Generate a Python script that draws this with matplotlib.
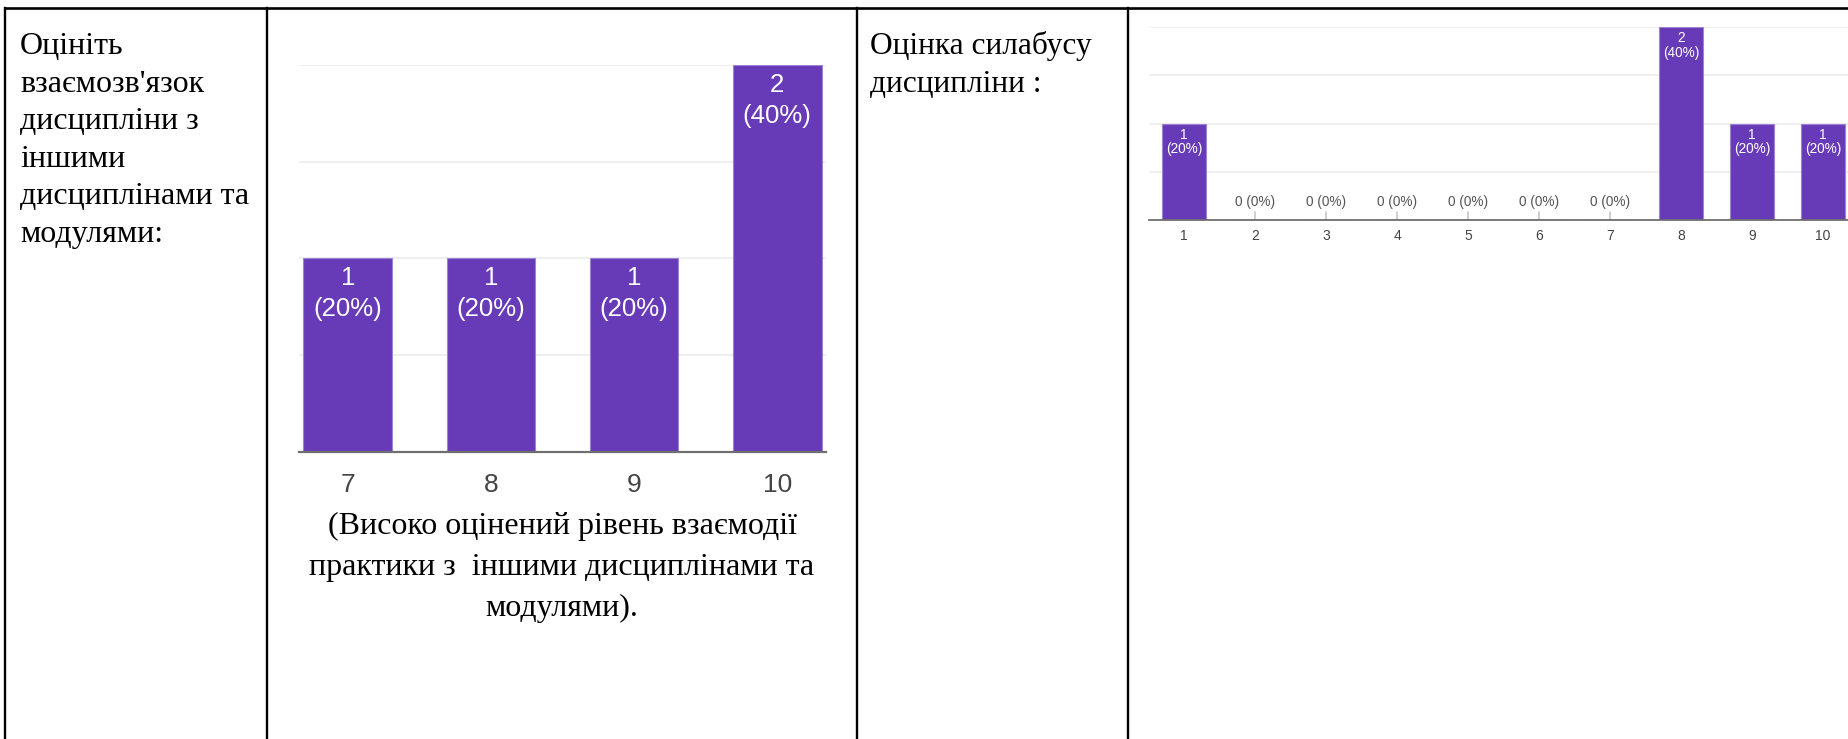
import matplotlib.pyplot as plt
from matplotlib.lines import Line2D

# survey answers, 5 respondents
left_scores = ['7', '8', '9', '10']
left_counts = [1, 1, 1, 2]
right_scores = ['1', '2', '3', '4', '5', '6', '7', '8', '9', '10']
right_counts = [1, 0, 0, 0, 0, 0, 0, 2, 1, 1]
total = 5

left_question = ['Оцініть', "взаємозв'язок", 'дисципліни з', 'іншими',
                 'дисциплінами та', 'модулями:']
right_question = ['Оцінка силабусу', 'дисципліни :']
caption = ['(Високо оцінений рівень взаємодії',
           'практики з  іншими дисциплінами та',
           'модулями).']

W, H = 1848, 739
purple = '#673ab7'
serif = ['Liberation Serif', 'DejaVu Serif']
sans = ['Liberation Sans', 'DejaVu Sans']

fig = plt.figure(figsize=(W / 100, H / 100), dpi=100)

# table frame and text, in pixel coords
bg = fig.add_axes([0, 0, 1, 1])
bg.set_xlim(0, W); bg.set_ylim(H, 0); bg.axis('off')
for x in [5, 267, 857, 1128]:
    bg.add_line(Line2D([x, x], [8, H], color='black', lw=1.7))
bg.add_line(Line2D([5, W], [8, 8], color='black', lw=1.9))

for i, t in enumerate(left_question):
    bg.text(20, 54 + i * 37.6, t, fontsize=23, family=serif, va='baseline', ha='left')
for i, t in enumerate(right_question):
    bg.text(870, 54 + i * 37.6, t, fontsize=22.6, family=serif, va='baseline', ha='left')
for i, t in enumerate(caption):
    bg.text(562, 534 + i * 41, t, fontsize=23, family=serif, va='baseline', ha='center')


def bar_chart(rect, scores, counts, xlim, big):
    ax = fig.add_axes(rect)
    xs = [int(s) for s in scores]
    ax.bar(xs, counts, width=0.62, color=purple, edgecolor='#9c83d6', lw=0.8, zorder=3)
    ax.set_xlim(*xlim); ax.set_ylim(0, 2)
    ax.set_yticks([0, 0.5, 1, 1.5, 2])
    ax.yaxis.grid(True, color='#ececec', lw=1.2, zorder=0)
    ax.tick_params(axis='y', length=0, labelleft=False)
    ax.set_xticks(xs)
    ax.set_xticklabels(scores, family=sans, color='#444444', fontsize=19 if big else 10)
    ax.tick_params(axis='x', length=0, pad=15 if big else 6.5)
    for s in ['top', 'right', 'left']:
        ax.spines[s].set_visible(False)
    ax.spines['bottom'].set_color('#6f6f6f')
    ax.spines['bottom'].set_linewidth(1.6 if big else 1.3)
    ax.spines['bottom'].set_zorder(4)
    ax.patch.set_alpha(0)
    fs = 18.5 if big else 9.8
    o1, o2 = (14.4, 36.7) if big else (8, 18.7)
    for x, c in zip(xs, counts):
        if c > 0:
            ax.annotate(str(c), (x, c), xytext=(0, -o1), textcoords='offset points',
                        ha='center', va='center', color='white', fontsize=fs, family=sans, zorder=5)
            ax.annotate('(%d%%)' % round(100 * c / total), (x, c), xytext=(0, -o2),
                        textcoords='offset points', ha='center', va='center',
                        color='white', fontsize=fs, family=sans, zorder=5)
        else:
            ax.annotate('%d (%d%%)' % (c, round(100 * c / total)), (x, 0), xytext=(0, 13),
                        textcoords='offset points', ha='center', va='center',
                        color='#555555', fontsize=fs, family=sans,
                        arrowprops=dict(arrowstyle='-', color='#aaaaaa', lw=0.8,
                                        shrinkA=0, shrinkB=0))
    return ax


bar_chart([299 / W, (H - 452) / H, 527 / W, 387 / H],
          left_scores, left_counts, (6.66, 10.34), True)
bar_chart([1148.5 / W, (H - 220) / H, 710 / W, 193 / H],
          right_scores, right_counts, (0.5, 10.5), False)

fig.savefig('out.png', dpi=100)
